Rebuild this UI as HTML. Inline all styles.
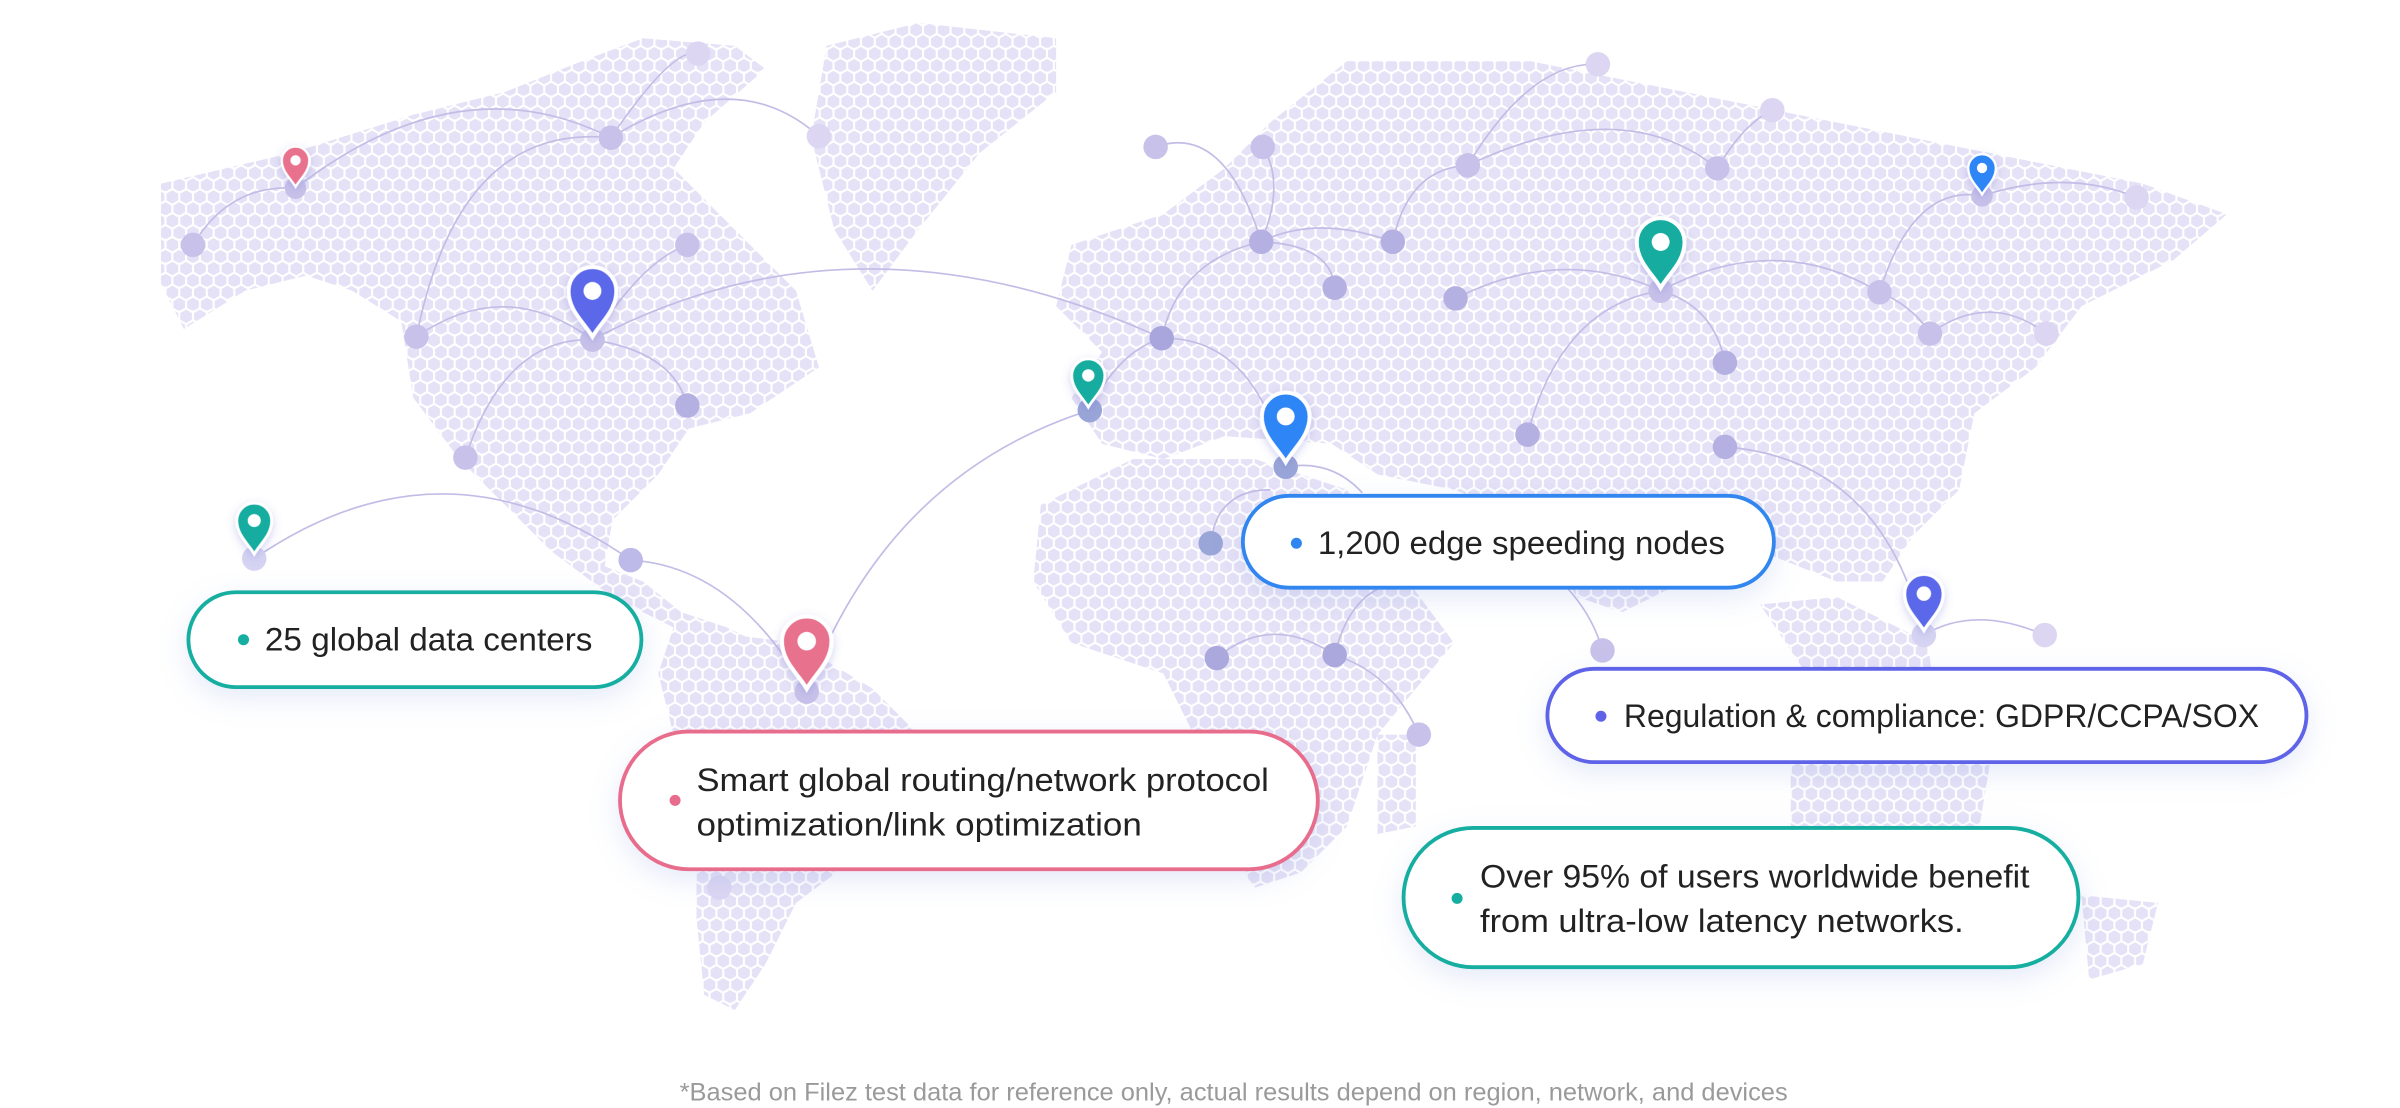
<!DOCTYPE html>
<html><head><meta charset="utf-8">
<style>
html,body{margin:0;padding:0;background:#fff;}
svg{display:block;}
text{font-family:"Liberation Sans",sans-serif;}
</style></head>
<body>
<svg width="2400" height="1108" viewBox="0 0 1568 724" xmlns="http://www.w3.org/2000/svg">
<defs>
<pattern id="hex" width="9" height="15.6" patternUnits="userSpaceOnUse">
 <g fill="#e5e1f6">
 <polygon points="4.5,-0.5 8.3,1.7 8.3,6.1 4.5,8.3 0.7,6.1 0.7,1.7"/>
 <polygon points="0,7.3 3.8,9.5 3.8,13.9 0,16.1 -3.8,13.9 -3.8,9.5"/>
 <polygon points="9,7.3 12.8,9.5 12.8,13.9 9,16.1 5.2,13.9 5.2,9.5"/>
 <polygon points="4.5,15.1 8.3,17.3 8.3,21.7 4.5,23.9 0.7,21.7 0.7,17.3"/>
 </g>
</pattern>
<clipPath id="land">
 <polygon points="105,120 190,100 270,75 330,60 380,40 420,25 480,30 500,45 460,80 440,110 470,140 520,190 535,240 490,270 450,280 430,310 400,340 395,370 420,380 445,400 475,410 505,425 470,425 430,405 400,390 360,360 330,330 300,300 270,260 262,210 230,190 200,180 160,190 120,215 105,185"/>
 <polygon points="540,30 600,15 690,25 690,60 640,100 600,150 570,190 545,150 530,90"/>
 <polygon points="440,410 520,420 570,450 600,480 590,520 560,560 520,590 500,630 480,660 460,650 455,600 455,540 440,480 430,440"/>
 <polygon points="700,160 760,140 800,110 830,80 880,40 1000,40 1100,60 1200,80 1300,100 1400,120 1455,140 1420,170 1360,200 1330,240 1290,270 1280,320 1250,350 1230,380 1200,380 1150,360 1100,380 1060,400 1030,390 1000,340 950,320 900,310 870,290 800,285 760,300 720,290 700,260 720,230 690,200"/>
 <polygon points="680,330 740,300 820,300 880,320 920,380 950,420 900,480 880,540 850,570 820,580 790,540 780,480 760,440 700,420 675,380"/>
 <polygon points="1150,395 1200,390 1260,420 1265,470 1220,470 1180,440"/>
 <polygon points="1170,495 1240,475 1300,500 1290,560 1220,590 1170,570"/>
 <polygon points="1360,585 1410,590 1400,630 1365,640"/>
 <polygon points="900,480 925,480 925,540 900,545"/>
</clipPath>
<filter id="sh" x="-20%" y="-40%" width="140%" height="180%"><feDropShadow dx="0" dy="6" stdDeviation="9" flood-color="#8aa0e0" flood-opacity="0.22"/></filter>
<filter id="psh" x="-50%" y="-50%" width="200%" height="200%"><feDropShadow dx="0" dy="2" stdDeviation="3" flood-color="#6a70d0" flood-opacity="0.3"/></filter>
<path id="pin" d="M0,0 C-4,-7 -12,-13 -12,-23 A12,12 0 1 1 12,-23 C12,-13 4,-7 0,0Z"/>
</defs>

<rect x="0" y="0" width="1568" height="724" fill="url(#hex)" clip-path="url(#land)"/>

<g fill="none" stroke="#c2bde6" stroke-width="1.1">
<path d="M272,220 Q300,80 399,90"/>
<path d="M193,123 Q300,40 399,90"/>
<path d="M126,160 Q150,120 193,123"/>
<path d="M399,90 Q440,30 456,35"/>
<path d="M399,90 Q480,40 535,89"/>
<path d="M272,220 Q330,180 387,222"/>
<path d="M387,222 Q420,170 449,160"/>
<path d="M387,222 Q560,130 759,221"/>
<path d="M304,299 Q330,220 387,222"/>
<path d="M387,222 Q440,230 449,265"/>
<path d="M166,365 Q290,280 412,366"/>
<path d="M412,366 Q480,370 527,452"/>
<path d="M527,452 Q580,310 712,268"/>
<path d="M712,268 Q730,230 759,221"/>
<path d="M759,221 Q770,170 824,158"/>
<path d="M824,158 Q840,120 825,96"/>
<path d="M755,96 Q800,80 824,158"/>
<path d="M824,158 Q860,140 910,158"/>
<path d="M824,158 Q870,160 872,188"/>
<path d="M910,158 Q920,110 959,108"/>
<path d="M959,108 Q1000,40 1044,42"/>
<path d="M959,108 Q1060,60 1122,110"/>
<path d="M1122,110 Q1140,80 1158,72"/>
<path d="M759,221 Q820,220 840,305"/>
<path d="M840,305 Q870,300 890,322"/>
<path d="M791,355 Q795,320 830,320"/>
<path d="M795,430 Q830,400 872,428"/>
<path d="M872,428 Q910,440 927,480"/>
<path d="M872,428 Q880,395 900,385"/>
<path d="M1020,380 Q1040,400 1047,425"/>
<path d="M951,195 Q1020,160 1085,190"/>
<path d="M1085,190 Q1120,200 1127,237"/>
<path d="M998,284 Q1020,200 1085,190"/>
<path d="M1085,190 Q1160,150 1228,191"/>
<path d="M1228,191 Q1250,120 1295,128"/>
<path d="M1228,191 Q1250,200 1261,218"/>
<path d="M1261,218 Q1300,190 1337,218"/>
<path d="M1295,128 Q1350,110 1396,129"/>
<path d="M1127,292 Q1230,300 1257,415"/>
<path d="M1257,415 Q1290,395 1336,415"/>
</g>

<g fill="#c8c2ea">
<circle cx="126" cy="160" r="8"/><circle cx="193" cy="123" r="7"/><circle cx="272" cy="220" r="8"/><circle cx="387" cy="222" r="8"/>
<circle cx="449" cy="160" r="8"/><circle cx="449" cy="265" r="8" fill="#b4b0e2"/><circle cx="304" cy="299" r="8"/><circle cx="399" cy="90" r="8"/>
<circle cx="456" cy="35" r="8" fill="#dcd6f2"/><circle cx="535" cy="89" r="8" fill="#dcd6f2"/><circle cx="166" cy="365" r="8" fill="#d6d4f2"/><circle cx="412" cy="366" r="8" fill="#bdb9e8"/>
<circle cx="527" cy="452" r="8"/><circle cx="712" cy="268" r="8" fill="#9aa6d8"/><circle cx="759" cy="221" r="8" fill="#a8a6dc"/><circle cx="755" cy="96" r="8"/>
<circle cx="825" cy="96" r="8"/><circle cx="824" cy="158" r="8" fill="#b4b0e2"/><circle cx="872" cy="188" r="8" fill="#b4b0e2"/><circle cx="910" cy="158" r="8" fill="#b4b0e2"/>
<circle cx="1044" cy="42" r="8" fill="#dcd6f2"/><circle cx="1158" cy="72" r="8" fill="#dcd6f2"/><circle cx="959" cy="108" r="8"/><circle cx="1122" cy="110" r="8"/>
<circle cx="951" cy="195" r="8" fill="#b4b0e2"/><circle cx="1085" cy="190" r="8"/><circle cx="1127" cy="237" r="8" fill="#b4b0e2"/><circle cx="1228" cy="191" r="8"/>
<circle cx="1261" cy="218" r="8"/><circle cx="1337" cy="218" r="8" fill="#dcd6f2"/><circle cx="1396" cy="129" r="8" fill="#dcd6f2"/><circle cx="1295" cy="128" r="7"/>
<circle cx="998" cy="284" r="8" fill="#b4b0e2"/><circle cx="1127" cy="292" r="8" fill="#b4b0e2"/><circle cx="840" cy="305" r="8" fill="#9aa6d8"/><circle cx="791" cy="355" r="8" fill="#9aa6d8"/>
<circle cx="795" cy="430" r="8" fill="#aaa8dc"/><circle cx="872" cy="428" r="8" fill="#aaa8dc"/><circle cx="927" cy="480" r="8"/><circle cx="1047" cy="425" r="8"/>
<circle cx="1257" cy="415" r="8" fill="#d6d4f2"/><circle cx="1336" cy="415" r="8" fill="#dcd6f2"/><circle cx="470" cy="580" r="8" fill="#dcd6f2"/>
</g>

<g stroke="#fff" stroke-width="2" filter="url(#psh)">
<g transform="translate(193,122) scale(0.75)"><use href="#pin" fill="#e8718d"/><circle cy="-23" r="4.5" fill="#fff" stroke="none"/></g>
<g transform="translate(387,220) scale(1.3)"><use href="#pin" fill="#5b68ea"/><circle cy="-23" r="4.5" fill="#fff" stroke="none"/></g>
<g transform="translate(711,266) scale(0.9)"><use href="#pin" fill="#12ada0"/><circle cy="-23" r="4.5" fill="#fff" stroke="none"/></g>
<g transform="translate(840,302) scale(1.3)"><use href="#pin" fill="#2f86f6"/><circle cy="-23" r="4.5" fill="#fff" stroke="none"/></g>
<g transform="translate(1085,188) scale(1.3)"><use href="#pin" fill="#12ada0"/><circle cy="-23" r="4.5" fill="#fff" stroke="none"/></g>
<g transform="translate(1295,127) scale(0.75)"><use href="#pin" fill="#2f86f6"/><circle cy="-23" r="4.5" fill="#fff" stroke="none"/></g>
<g transform="translate(166,362) scale(0.95)"><use href="#pin" fill="#12ada0"/><circle cy="-23" r="4.5" fill="#fff" stroke="none"/></g>
<g transform="translate(527,450) scale(1.35)"><use href="#pin" fill="#e8718d"/><circle cy="-23" r="4.5" fill="#fff" stroke="none"/></g>
<g transform="translate(1257,412) scale(1.05)"><use href="#pin" fill="#5b68ea"/><circle cy="-23" r="4.5" fill="#fff" stroke="none"/></g>
</g>

<g filter="url(#sh)" fill="#fff" stroke-width="2.5">
<rect x="123" y="387" width="296" height="62" rx="31" stroke="#15aea0"/>
<rect x="812" y="324" width="347" height="60" rx="30" stroke="#3086f0"/>
<rect x="405" y="478" width="456" height="90" rx="45" stroke="#e86c8c"/>
<rect x="1011" y="437" width="496" height="61" rx="30.5" stroke="#5f63e8"/>
<rect x="917" y="541" width="441" height="91" rx="45.5" stroke="#15aea0"/>
</g>

<g font-size="21" fill="#222">
<circle cx="159" cy="418" r="3.6" fill="#15aea0"/><text x="173" y="425" textLength="214" lengthAdjust="spacingAndGlyphs">25 global data centers</text>
<circle cx="847" cy="355" r="3.6" fill="#3086f0"/><text x="861" y="362" textLength="266" lengthAdjust="spacingAndGlyphs">1,200 edge speeding nodes</text>
<circle cx="441" cy="523" r="3.6" fill="#e86c8c"/><text x="455" y="517" textLength="374" lengthAdjust="spacingAndGlyphs">Smart global routing/network protocol</text><text x="455" y="546" textLength="291" lengthAdjust="spacingAndGlyphs">optimization/link optimization</text>
<circle cx="1046" cy="468" r="3.6" fill="#5f63e8"/><text x="1061" y="475" textLength="415" lengthAdjust="spacingAndGlyphs">Regulation &amp; compliance: GDPR/CCPA/SOX</text>
<circle cx="952" cy="587" r="3.6" fill="#15aea0"/><text x="967" y="580" textLength="359" lengthAdjust="spacingAndGlyphs">Over 95% of users worldwide benefit</text><text x="967" y="609" textLength="316" lengthAdjust="spacingAndGlyphs">from ultra-low latency networks.</text>
</g>
<text x="806" y="719" text-anchor="middle" font-size="16.5" fill="#9a9a9a" textLength="724" lengthAdjust="spacingAndGlyphs">*Based on Filez test data for reference only, actual results depend on region, network, and devices</text>
</svg>
</body></html>
